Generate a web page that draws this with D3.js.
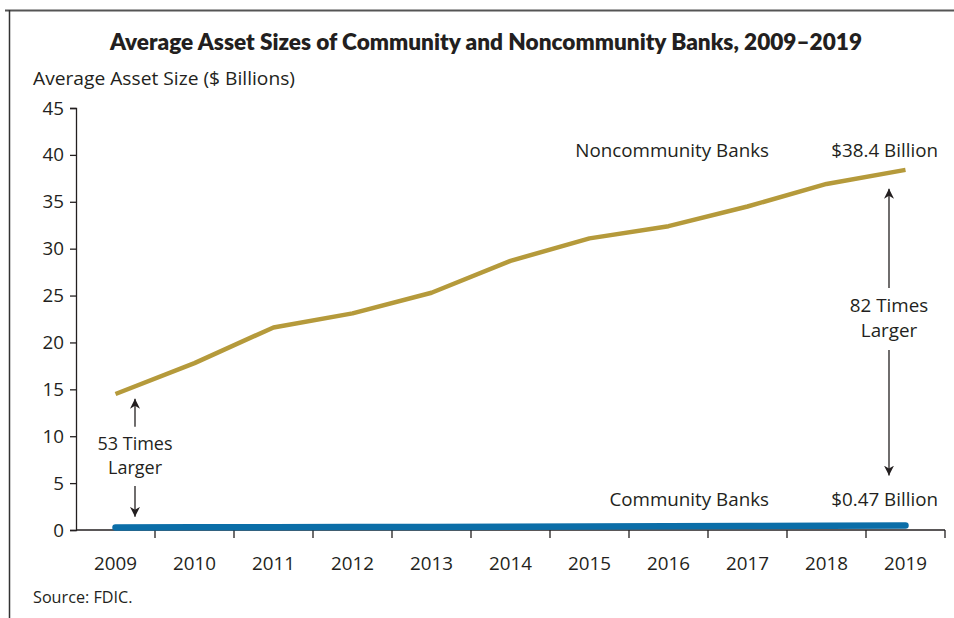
<!DOCTYPE html>
<html>
<head>
<meta charset="utf-8">
<script src="https://cdn.jsdelivr.net/npm/d3@7"></script>
<style>
  html, body { margin: 0; padding: 0; background: #fff; }
  svg { display: block; }
  text { font-family: "Open Sans", "Noto Sans", sans-serif; fill: #231f20; }
</style>
</head>
<body>
<svg id="chart" width="954" height="618"></svg>
<script>
// Years on the x axis
const years = ["2009", "2010", "2011", "2012", "2013", "2014", "2015", "2016", "2017", "2018", "2019"];
// Average asset size, $ billions
const noncommunity = [14.5, 17.8, 21.6, 23.1, 25.3, 28.7, 31.1, 32.4, 34.5, 36.9, 38.4];
const community = [0.27, 0.29, 0.30, 0.32, 0.33, 0.35, 0.37, 0.39, 0.42, 0.44, 0.47];
const yTicks = [0, 5, 10, 15, 20, 25, 30, 35, 40, 45];

const svg = d3.select("#chart");
const margin = { left: 76, right: 9, top: 108, bottom: 88 };
const W = 954, H = 618;
const FS = "18.8px";

const x = d3.scaleBand().domain(years).range([margin.left, W - margin.right]);
const y = d3.scaleLinear().domain([0, 45]).range([H - margin.bottom, margin.top]);

// Partial frame along the top and left edges
svg.append("line").attr("x1", 5).attr("x2", W).attr("y1", 10.5).attr("y2", 10.5)
  .attr("stroke", "#555").attr("stroke-width", 2);
svg.append("line").attr("x1", 9.5).attr("x2", 9.5).attr("y1", 10).attr("y2", H)
  .attr("stroke", "#333").attr("stroke-width", 1.5);

// Title
svg.append("text").attr("x", 486).attr("y", 50).attr("text-anchor", "middle")
  .style("font-family", "Lato, 'Open Sans', sans-serif")
  .style("font-weight", 800).style("font-size", "22.5px")
  .attr("textLength", 752).attr("lengthAdjust", "spacingAndGlyphs")
  .text("Average Asset Sizes of Community and Noncommunity Banks, 2009–2019");

// Y axis title
svg.append("text").attr("x", 33).attr("y", 85)
  .style("font-size", "18px")
  .attr("textLength", 262).attr("lengthAdjust", "spacingAndGlyphs")
  .text("Average Asset Size ($ Billions)");

// Y axis
const yAxis = svg.append("g").attr("transform", `translate(${margin.left},0)`)
  .call(d3.axisLeft(y).tickValues(yTicks).tickSize(6).tickPadding(6));
yAxis.select(".domain").attr("stroke", "#231f20").attr("stroke-width", 1.3);
yAxis.selectAll(".tick line").attr("stroke", "#231f20").attr("stroke-width", 1.3);
yAxis.selectAll(".tick text").style("font-size", FS).style("font-family", "'Open Sans', sans-serif").attr("fill", "#231f20");

// X axis: ticks sit between the years
const xAxisG = svg.append("g").attr("transform", `translate(0,${y(0)})`);
xAxisG.append("line").attr("x1", margin.left).attr("x2", W - margin.right)
  .attr("stroke", "#231f20").attr("stroke-width", 1.3);
xAxisG.selectAll(".sep").data(years).enter().append("line")
  .attr("class", "sep")
  .attr("x1", d => x(d) + x.bandwidth())
  .attr("x2", d => x(d) + x.bandwidth())
  .attr("y1", 0).attr("y2", 8)
  .attr("stroke", "#231f20").attr("stroke-width", 1.3);
xAxisG.selectAll(".yl").data(years).enter().append("text")
  .attr("x", d => x(d) + x.bandwidth() / 2).attr("y", 40)
  .attr("text-anchor", "middle").style("font-size", FS)
  .text(d => d);

const cx = d => x(d) + x.bandwidth() / 2;
const line = d3.line().x((d, i) => cx(years[i])).y(d => y(d));

// Series lines
svg.append("path").datum(noncommunity).attr("d", line)
  .attr("fill", "none").attr("stroke", "#b59a3b").attr("stroke-width", 4.5)
  .attr("stroke-linejoin", "round");
svg.append("path").datum(community).attr("d", line)
  .attr("fill", "none").attr("stroke", "#0b6ea8").attr("stroke-width", 6.5)
  .attr("stroke-linecap", "round").attr("stroke-linejoin", "round");

// Series labels
const label = (tx, ty, s, anchor) => svg.append("text").attr("x", tx).attr("y", ty)
  .attr("text-anchor", anchor).style("font-size", FS).text(s);
label(769, 157, "Noncommunity Banks", "end");
label(938, 157, "$38.4 Billion", "end");
label(769, 506, "Community Banks", "end");
label(938, 506, "$0.47 Billion", "end");

// Two-line annotation text
function note(tx, ty, lines, gap, size) {
  const t = svg.append("text").attr("x", tx).attr("y", ty)
    .attr("text-anchor", "middle").style("font-size", size);
  lines.forEach((s, i) => t.append("tspan").attr("x", tx).attr("dy", i ? gap : 0).text(s));
}

// Arrow markers
const defs = svg.append("defs");
defs.append("marker").attr("id", "arr").attr("viewBox", "0 0 10 10")
  .attr("refX", 10).attr("refY", 5).attr("markerWidth", 10).attr("markerHeight", 10)
  .attr("markerUnits", "userSpaceOnUse").attr("orient", "auto")
  .append("path").attr("d", "M0,0 L10,5 L0,10 L3,5 Z").attr("fill", "#231f20");

function arrow(ax, from, to) {
  svg.append("line").attr("x1", ax).attr("x2", ax)
    .attr("y1", y(from)).attr("y2", y(to))
    .attr("stroke", "#231f20").attr("stroke-width", 1.3)
    .attr("marker-end", "url(#arr)");
}

// Ratio annotation, 2019
const ax2019 = 889;
arrow(ax2019, 25.8, 36.4);
arrow(ax2019, 19.2, 5.8);
note(ax2019, 312, ["82 Times", "Larger"], 25, FS);

// Ratio annotation, 2009
const ax2009 = 135;
arrow(ax2009, 11.0, 14.0);
arrow(ax2009, 4.7, 1.4);
note(ax2009, 450, ["53 Times", "Larger"], 24, "18px");

// Source note
svg.append("text").attr("x", 33).attr("y", 603).style("font-size", "16.2px").text("Source: FDIC.");
</script>
</body>
</html>
